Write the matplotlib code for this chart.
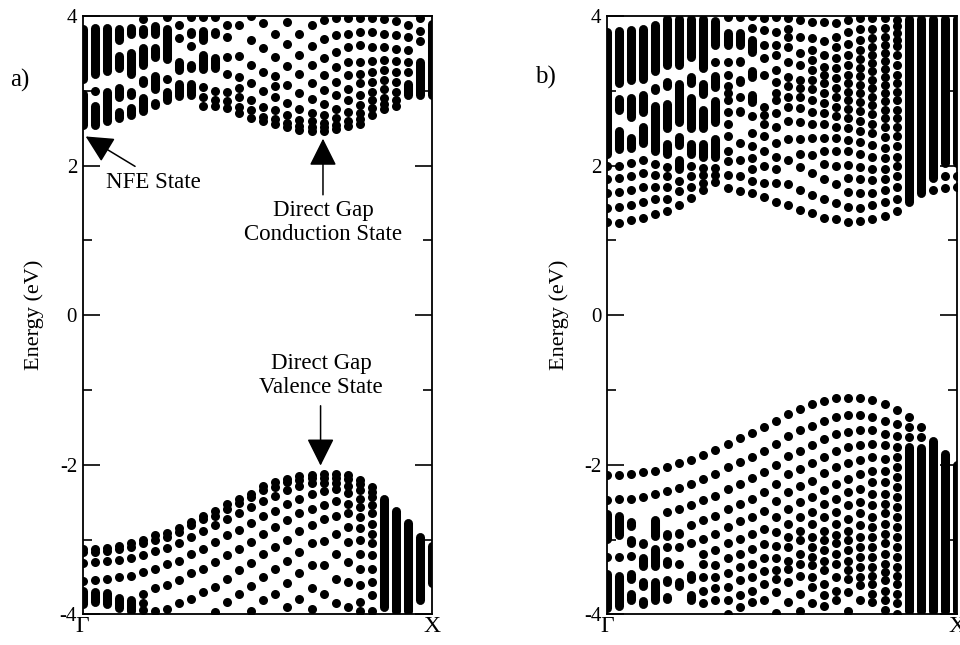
import matplotlib
matplotlib.use("Agg")
import matplotlib.pyplot as plt
from matplotlib.ticker import FixedLocator

plt.rcParams['font.family'] = ['Liberation Serif', 'DejaVu Serif']
plt.rcParams['axes.unicode_minus'] = False

# eigenvalues (eV) read per k-point column, 30 columns from Gamma (0) to X (29)
# single dots, and dense runs of dots given as their outer extent (top, bottom)

# ---- panel a, conduction side
a_cb_dots = [
    [], [3.00], [], [], [], [3.96], [],
    [3.99, 3.16],
    [3.88, 3.70],
    [3.99, 3.60],
    [3.99, 3.05, 2.92, 2.80],
    [3.99, 3.00, 2.88, 2.80],
    [3.88, 3.72, 3.45, 3.23, 2.99, 2.86, 2.77],
    [3.88, 3.46, 3.19, 3.04, 2.92, 2.79, 2.70],
    [4.00, 3.68, 3.35, 3.10, 2.88, 2.75, 2.64],
    [3.90, 3.57, 3.25, 3.00, 2.78, 2.65, 2.59],
    [3.76, 3.45, 3.20, 3.07, 2.92, 2.75, 2.62, 2.56],
    [3.92, 3.62, 3.33, 3.08, 2.84, 2.67, 2.57, 2.52],
    [3.76, 3.48, 3.22, 2.97, 2.76, 2.61, 2.53, 2.48],
    [3.88, 3.60, 3.34, 3.10, 2.89, 2.70, 2.59, 2.51, 2.46],
    [3.94, 3.69, 3.44, 3.21, 3.01, 2.83, 2.68, 2.57, 2.51, 2.46],
    [3.97, 3.74, 3.52, 3.32, 3.12, 2.94, 2.76, 2.63, 2.54, 2.49],
    [3.97, 3.76, 3.59, 3.39, 3.21, 3.03, 2.88, 2.72, 2.60, 2.53],
    [3.97, 3.79, 3.61, 3.39, 3.23, 3.10, 2.94, 2.81, 2.70, 2.62, 2.56],
    [3.97, 3.79, 3.59, 3.40, 3.25, 3.12, 2.99, 2.88, 2.77, 2.68],
    [3.96, 3.76, 3.59, 3.41, 3.28, 3.14, 3.03, 2.91, 2.82, 2.76],
    [3.93, 3.74, 3.56, 3.40, 3.25, 3.12, 2.99, 2.88, 2.80],
    [3.88, 3.72, 3.55, 3.39, 3.25],
    [3.97, 3.80, 3.66],
    [],
]
a_cb_bars = {
    0: [(3.88, 3.10), (3.02, 2.48)],
    1: [(3.90, 3.16), (2.86, 2.48)],
    2: [(3.90, 3.21), (3.05, 2.54)],
    3: [(3.88, 3.62), (3.52, 3.24), (3.10, 2.86), (2.78, 2.57)],
    4: [(3.90, 3.70), (3.56, 3.16), (3.05, 2.88), (2.83, 2.62)],
    5: [(3.88, 3.70), (3.63, 3.28), (3.21, 3.05), (2.96, 2.67)],
    6: [(3.92, 3.70), (3.63, 3.39), (3.26, 2.96), (2.90, 2.75)],
    7: [(3.88, 3.36), (3.05, 2.82)],
    8: [(3.45, 3.22), (3.15, 2.87)],
    9: [(3.85, 3.70), (3.40, 3.25), (3.15, 2.88)],
    10: [(3.86, 3.62), (3.54, 3.23)],
    11: [(3.85, 3.70), (3.50, 3.25)],
    27: [(3.15, 2.88)],
    28: [(3.45, 2.88)],
    29: [(3.96, 2.88)],
}

# ---- panel a, valence side
a_vb_dots = [
    [-3.12, -3.17, -3.31, -3.55],
    [-3.12, -3.17, -3.30, -3.54],
    [-3.11, -3.15, -3.28, -3.52],
    [-3.08, -3.13, -3.27, -3.50],
    [-3.04, -3.10, -3.25, -3.48],
    [-3.00, -3.05, -3.21, -3.43, -3.72, -3.85, -3.94],
    [-2.94, -3.00, -3.15, -3.39, -3.65, -3.96],
    [-2.91, -2.96, -3.11, -3.32, -3.61, -3.92],
    [-2.84, -2.90, -3.04, -3.28, -3.54, -3.85],
    [-2.76, -2.81, -2.96, -3.19, -3.45, -3.79],
    [-2.68, -2.72, -2.88, -3.12, -3.39, -3.70],
    [-2.61, -2.68, -2.81, -3.03, -3.30, -3.63, -3.97],
    [-2.52, -2.59, -2.72, -2.94, -3.21, -3.52, -3.83],
    [-2.45, -2.51, -2.65, -2.87, -3.12, -3.41, -3.72],
    [-2.39, -2.43, -2.56, -2.78, -3.03, -3.31, -3.62, -3.96],
    [-2.28, -2.33, -2.48, -2.68, -2.92, -3.19, -3.50, -3.81],
    [-2.23, -2.29, -2.41, -2.61, -2.83, -3.10, -3.39, -3.72],
    [-2.19, -2.23, -2.33, -2.52, -2.74, -3.00, -3.28, -3.58, -3.90],
    [-2.15, -2.20, -2.28, -2.45, -2.65, -2.88, -3.16, -3.45, -3.79],
    [-2.13, -2.18, -2.24, -2.39, -2.59, -2.81, -3.05, -3.34, -3.65, -3.93],
    [-2.12, -2.17, -2.24, -2.35, -2.53, -2.73, -3.02, -3.34, -3.72],
    [-2.12, -2.17, -2.24, -2.32, -2.48, -2.68, -2.92, -3.19, -3.52, -3.85],
    [-2.14, -2.19, -2.28, -2.38, -2.52, -2.65, -2.83, -3.03, -3.30, -3.56, -3.90],
    [-2.20, -2.25, -2.34, -2.45, -2.56, -2.70, -2.85, -3.01, -3.19, -3.39, -3.61, -3.83, -3.96],
    [-2.30, -2.36, -2.43, -2.54, -2.65, -2.79, -2.92, -3.05, -3.21, -3.39, -3.56, -3.74, -3.96],
    [], [], [], [], [],
]
a_vb_bars = {
    0: [(-3.62, -3.92)],
    1: [(-3.64, -3.90)],
    2: [(-3.65, -3.92)],
    3: [(-3.72, -3.98)],
    4: [(-3.75, -4.02)],
    25: [(-2.40, -3.96)],
    26: [(-2.55, -4.02)],
    27: [(-2.72, -4.02)],
    28: [(-2.91, -3.86)],
    29: [(-3.03, -3.64)],
}

# ---- panel b, conduction side
b_cb_dots = [
    [2.00, 1.82, 1.63, 1.44, 1.24],
    [2.00, 1.84, 1.65, 1.45, 1.23],
    [2.03, 1.86, 1.68, 1.48, 1.27],
    [2.08, 1.90, 1.71, 1.51, 1.30],
    [2.02, 1.88, 1.72, 1.55, 1.35],
    [1.98, 1.86, 1.72, 1.55, 1.40],
    [1.80, 1.66, 1.48],
    [2.00, 1.86, 1.72, 1.57],
    [1.97, 1.87, 1.77, 1.67],
    [3.38, 1.97, 1.88, 1.78],
    [3.99, 3.39, 3.21, 3.06, 2.97, 2.88, 2.72, 2.55, 2.39, 2.19, 2.06, 1.88, 1.70],
    [3.99, 2.92, 2.30, 2.08, 1.86, 1.66],
    [4.00, 3.84, 2.66, 2.44, 2.26, 2.10, 1.95, 1.79, 1.63],
    [3.97, 3.81, 3.61, 3.44, 3.21, 2.79, 2.68, 2.55, 2.39, 2.19, 1.99, 1.77, 1.58],
    [3.99, 3.79, 3.61, 3.48, 3.28, 3.12, 2.97, 2.88, 2.70, 2.52, 2.30, 2.12, 1.95, 1.77, 1.52],
    [3.97, 3.83, 3.72, 3.59, 3.39, 3.19, 3.06, 2.92, 2.79, 2.59, 2.36, 2.08, 1.76, 1.48],
    [3.95, 3.72, 3.50, 3.34, 3.15, 3.04, 2.92, 2.77, 2.58, 2.35, 2.15, 1.98, 1.68, 1.41],
    [3.92, 3.70, 3.55, 3.41, 3.28, 3.15, 3.02, 2.88, 2.72, 2.55, 2.37, 2.14, 1.90, 1.61, 1.36],
    [3.92, 3.66, 3.48, 3.32, 3.21, 3.10, 2.97, 2.84, 2.70, 2.55, 2.37, 2.20, 2.02, 1.82, 1.55, 1.30],
    [3.90, 3.72, 3.59, 3.44, 3.30, 3.17, 3.04, 2.92, 2.79, 2.66, 2.52, 2.37, 2.20, 2.00, 1.76, 1.50, 1.28],
    [3.95, 3.78, 3.63, 3.48, 3.34, 3.21, 3.10, 2.99, 2.88, 2.76, 2.63, 2.50, 2.34, 2.19, 2.01,
     1.83, 1.65, 1.45, 1.25],
    [3.97, 3.82, 3.68, 3.55, 3.43, 3.31, 3.20, 3.08, 2.97, 2.85, 2.73, 2.60, 2.46, 2.31, 2.15,
     1.98, 1.82, 1.64, 1.44, 1.26],
    [3.97, 3.82, 3.70, 3.59, 3.48, 3.37, 3.26, 3.15, 3.04, 2.92, 2.81, 2.69, 2.56, 2.43, 2.28,
     2.12, 1.96, 1.81, 1.64, 1.47, 1.28],
    [3.97, 3.84, 3.72, 3.61, 3.50, 3.40, 3.29, 3.19, 3.08, 2.97, 2.86, 2.75, 2.63, 2.51, 2.38,
     2.24, 2.10, 1.96, 1.82, 1.68, 1.52, 1.32],
    [3.95, 3.86, 3.77, 3.68, 3.60, 3.48, 3.35, 3.21, 3.10, 2.99, 2.88, 2.75, 2.64, 2.52, 2.39,
     2.26, 2.12, 1.99, 1.86, 1.72, 1.55, 1.39],
    [], [],
    [1.68],
    [1.86, 1.70],
    [1.86, 1.72],
]
b_cb_bars = {
    0: [(3.84, 2.10)],
    1: [(3.86, 3.05), (2.95, 2.68), (2.52, 2.16)],
    2: [(3.87, 3.08), (2.96, 2.59), (2.43, 2.17)],
    3: [(3.88, 3.10), (3.00, 2.66), (2.57, 2.24)],
    4: [(3.94, 3.20), (3.10, 2.95), (2.86, 2.14)],
    5: [(4.02, 3.28), (3.18, 3.00), (2.88, 2.44), (2.35, 2.10)],
    6: [(4.02, 3.28), (3.15, 2.52), (2.44, 2.21), (2.14, 1.90)],
    7: [(4.02, 3.39), (3.25, 3.05), (2.97, 2.44), (2.35, 2.10)],
    8: [(4.02, 3.24), (3.15, 2.90), (2.80, 2.44), (2.35, 2.06)],
    9: [(3.99, 3.55), (3.26, 2.99), (2.92, 2.52), (2.42, 2.06)],
    10: [(3.83, 3.55)],
    11: [(3.83, 3.55), (3.46, 3.32), (3.21, 3.06), (2.79, 2.66), (2.57, 2.48)],
    12: [(3.74, 3.46), (3.32, 3.12), (3.01, 2.79)],
    13: [(3.04, 2.92)],
    25: [(4.02, 1.46)],
    26: [(4.02, 1.57)],
    27: [(4.02, 1.78)],
    28: [(4.02, 1.98)],
    29: [(4.02, 1.98)],
}

# ---- panel b, valence side
b_vb_dots = [
    [-2.14, -2.47, -3.23],
    [-2.13, -2.46, -3.23],
    [-2.12, -2.45, -3.22],
    [-2.10, -2.43],
    [-2.08, -2.39],
    [-2.03, -2.35, -2.63, -3.10],
    [-1.98, -2.31, -2.59, -3.10, -3.32],
    [-1.93, -2.26, -2.53, -2.81, -3.04],
    [-1.87, -2.19, -2.47, -2.74, -2.99, -3.19, -3.32, -3.50, -3.68, -3.85],
    [-1.80, -2.12, -2.41, -2.68, -2.92, -3.14, -3.34, -3.50, -3.64, -3.80],
    [-1.72, -2.03, -2.32, -2.59, -2.83, -3.05, -3.25, -3.45, -3.63, -3.81, -3.99],
    [-1.64, -1.96, -2.25, -2.52, -2.75, -2.99, -3.19, -3.36, -3.54, -3.74, -3.90],
    [-1.57, -1.89, -2.18, -2.45, -2.70, -2.93, -3.13, -3.32, -3.50, -3.68, -3.83],
    [-1.50, -1.81, -2.10, -2.36, -2.61, -2.86, -3.06, -3.25, -3.42, -3.59, -3.81],
    [-1.41, -1.72, -2.00, -2.25, -2.48, -2.70, -2.90, -3.08, -3.25, -3.41, -3.52, -3.70, -3.98],
    [-1.32, -1.61, -1.88, -2.12, -2.36, -2.59, -2.79, -2.96, -3.10, -3.28, -3.39, -3.56, -3.83],
    [-1.25, -1.54, -1.81, -2.05, -2.28, -2.50, -2.70, -2.88, -3.01, -3.19, -3.32, -3.48, -3.72,
     -3.96],
    [-1.19, -1.48, -1.74, -1.98, -2.21, -2.43, -2.63, -2.79, -2.96, -3.10, -3.23, -3.34, -3.50,
     -3.63, -3.85],
    [-1.14, -1.41, -1.65, -1.90, -2.11, -2.33, -2.52, -2.70, -2.88, -3.01, -3.14, -3.28, -3.41,
     -3.59, -3.74, -3.88],
    [-1.11, -1.36, -1.59, -1.81, -2.03, -2.25, -2.45, -2.63, -2.79, -2.94, -3.05, -3.19, -3.32,
     -3.50, -3.68, -3.81],
    [-1.10, -1.33, -1.56, -1.76, -1.98, -2.19, -2.36, -2.54, -2.72, -2.88, -3.01, -3.14, -3.28,
     -3.41, -3.52, -3.70, -3.96],
    [-1.11, -1.34, -1.54, -1.74, -1.94, -2.12, -2.32, -2.50, -2.65, -2.81, -2.96, -3.10, -3.23,
     -3.36, -3.50, -3.61, -3.81],
    [-1.13, -1.36, -1.54, -1.72, -1.90, -2.08, -2.23, -2.39, -2.54, -2.70, -2.83, -2.96, -3.10,
     -3.23, -3.36, -3.48, -3.59, -3.72, -3.83],
    [-1.19, -1.41, -1.59, -1.74, -1.92, -2.08, -2.23, -2.39, -2.52, -2.65, -2.79, -2.92, -3.05,
     -3.19, -3.32, -3.43, -3.54, -3.68, -3.81, -3.94],
    [-1.27, -1.45, -1.61, -1.76, -1.90, -2.03, -2.16, -2.30, -2.43, -2.56, -2.70, -2.83, -2.96,
     -3.10, -3.23, -3.36, -3.48, -3.59, -3.72, -3.85, -3.99],
    [-1.36, -1.50, -1.63],
    [-1.50, -1.63],
    [], [], [],
]
b_vb_bars = {
    0: [(-2.60, -3.05), (-3.40, -3.97)],
    1: [(-2.62, -3.00), (-3.42, -3.95)],
    2: [(-2.70, -2.88), (-2.94, -3.10), (-3.40, -3.59), (-3.66, -3.87)],
    3: [(-2.72, -2.83), (-2.99, -3.12), (-3.19, -3.41), (-3.50, -3.68), (-3.76, -3.92)],
    4: [(-2.68, -3.01), (-3.07, -3.41), (-3.50, -3.87)],
    5: [(-2.86, -3.01), (-3.23, -3.39), (-3.48, -3.63), (-3.70, -3.85)],
    6: [(-2.85, -2.99), (-3.50, -3.68), (-3.76, -3.87)],
    7: [(-3.25, -3.32), (-3.41, -3.59), (-3.68, -3.87)],
    25: [(-1.70, -4.02)],
    26: [(-1.72, -4.02)],
    27: [(-1.62, -4.02)],
    28: [(-1.79, -4.02)],
    29: [(-1.94, -4.02)],
}

DOT = 6.5          # dot diameter, points
EV_PER_PT = 8.0 / (598.5 * 0.72)   # energy span of one point on the y axis


def draw_states(ax, dots, bars):
    xs = [k for k, col in enumerate(dots) for e in col]
    ys = [e for col in dots for e in col]
    ax.plot(xs, ys, 'o', color='k', ms=DOT, mew=0)
    inset = 0.5 * DOT * EV_PER_PT
    for k, segs in bars.items():
        for top, bottom in segs:
            t, b = top - inset, bottom + inset
            if t < b:
                t = b = 0.5 * (top + bottom)
            ax.plot([k, k], [t, b], color='k', lw=DOT, solid_capstyle='round')


def setup_axes(ax, label_x):
    ax.set_xlim(0, 29)
    ax.set_ylim(-4, 4)
    ax.set_xticks([0, 29])
    ax.set_xticklabels(['Γ', 'X'], fontsize=17)
    ax.tick_params(axis='x', length=0, pad=1)
    ax.set_yticks([-4, -2, 0, 2, 4])
    ax.set_yticklabels(['-4', '-2', '0', '2', '4'])
    ax.yaxis.set_minor_locator(FixedLocator([-3, -1, 1, 3]))
    ax.tick_params(axis='y', which='major', direction='in', left=True, right=True,
                   length=12, width=1.2, labelsize=15, pad=4)
    ax.tick_params(axis='y', which='minor', direction='in', left=True, right=True,
                   length=6.5, width=1.2)
    for s in ax.spines.values():
        s.set_linewidth(1.3)
    ax.set_ylabel('Energy (eV)', fontsize=16)
    ax.yaxis.set_label_coords(label_x, 0.5)


fig = plt.figure(figsize=(9.6, 6.45), dpi=100)
ax_a = fig.add_axes([0.0861, 0.0473, 0.3639, 0.9279])
ax_b = fig.add_axes([0.6320, 0.0473, 0.3649, 0.9279])

draw_states(ax_a, a_cb_dots, a_cb_bars)
draw_states(ax_a, a_vb_dots, a_vb_bars)
draw_states(ax_b, b_cb_dots, b_cb_bars)
draw_states(ax_b, b_vb_dots, b_vb_bars)

setup_axes(ax_a, -0.112)
setup_axes(ax_b, -0.108)

arrow = dict(arrowstyle='-|>,head_length=1.7,head_width=0.85', mutation_scale=10,
             color='k', lw=1.1, shrinkA=0, shrinkB=0)

# NFE state
ax_a.annotate('', xy=(0.25, 2.39), xytext=(4.35, 1.99), arrowprops=arrow)
ax_a.text(5.9, 1.77, 'NFE State', fontsize=16.5, ha='center', va='center')

# direct gap conduction state
ax_a.annotate('', xy=(19.95, 2.36), xytext=(19.95, 1.61), arrowprops=arrow)
ax_a.text(19.95, 1.24, 'Direct Gap\nConduction State', fontsize=16.5,
          ha='center', va='center', linespacing=1.2)

# direct gap valence state
ax_a.annotate('', xy=(19.75, -2.01), xytext=(19.75, -1.21), arrowprops=arrow)
ax_a.text(19.8, -0.81, 'Direct Gap\nValence State', fontsize=16.5,
          ha='center', va='center', linespacing=1.2)

fig.text(20 / 960, 1 - 80 / 645, 'a)', fontsize=18, ha='center', va='center')
fig.text(545 / 960, 1 - 77 / 645, 'b)', fontsize=18, ha='center', va='center')

fig.savefig('out.png', dpi=100)
